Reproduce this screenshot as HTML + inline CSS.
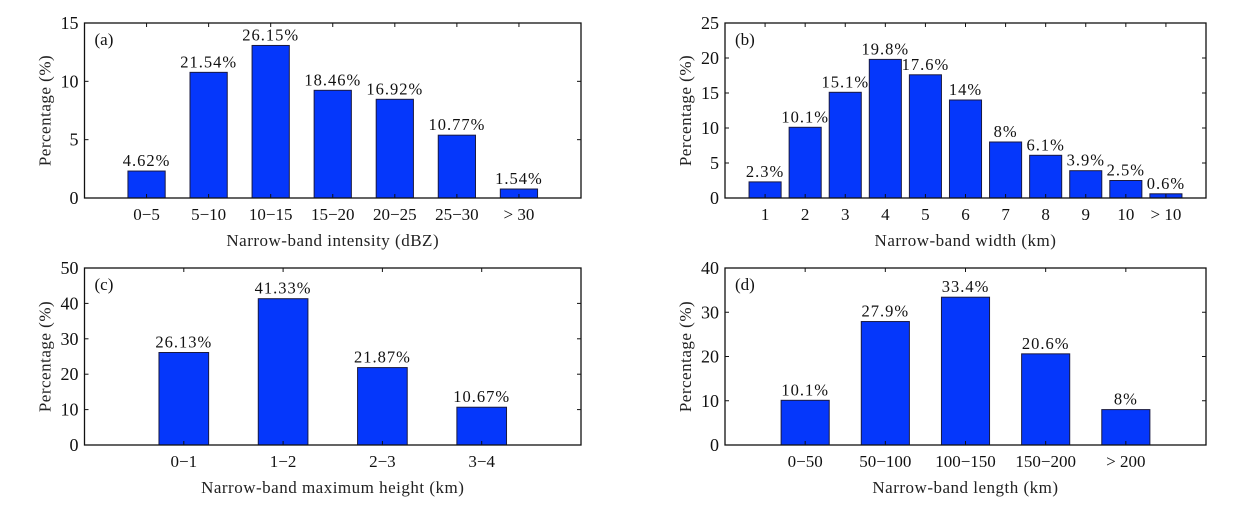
<!DOCTYPE html>
<html><head><meta charset="utf-8"><style>
html,body{margin:0;padding:0;background:#fff;}
svg{display:block;font-family:"Liberation Serif","Noto Serif CJK SC",serif;}
</style></head><body>
<svg id="chart" width="1258" height="514"></svg>
<script>
const catsA = ["0\u22125","5\u221210","10\u221215","15\u221220","20\u221225","25\u221230","> 30"];
const valsA = [4.62,21.54,26.15,18.46,16.92,10.77,1.54];
const ticksA = [0,5,10,15];
const catsB = ["1","2","3","4","5","6","7","8","9","10","> 10"];
const valsB = [2.3,10.1,15.1,19.8,17.6,14,8,6.1,3.9,2.5,0.6];
const ticksB = [0,5,10,15,20,25];
const catsC = ["0\u22121","1\u22122","2\u22123","3\u22124"];
const valsC = [26.13,41.33,21.87,10.67];
const ticksC = [0,10,20,30,40,50];
const catsD = ["0\u221250","50\u2212100","100\u2212150","150\u2212200","> 200"];
const valsD = [10.1,27.9,33.4,20.6,8];
const ticksD = [0,10,20,30,40];

const NS="http://www.w3.org/2000/svg";
const svg=document.getElementById('chart');
function mk(tag,attrs,parent,text){const e=document.createElementNS(NS,tag);for(const k in attrs)e.setAttribute(k,attrs[k]);if(text!==undefined)e.textContent=text;parent.appendChild(e);return e;}

function panel(cfg){
  const g=mk('g',{},svg);
  
  
  const {L,R,T,B,cats,vals,ticks,ymax,scale,bw,xtitle,id}=cfg;
  const n=cats.length;
  const xs=v=>L+(R-L)*v/(n+1);
  const ys=v=>B-(B-T)*v/ymax;
  cats.forEach((c,i)=>{
    const v=vals[i]*scale;
    const x0=xs(i+1-bw/2), x1=xs(i+1+bw/2);
    const r=mk('rect',{x:x0,y:ys(v),width:x1-x0,height:B-ys(v),fill:'#0537fb',stroke:'#1a1a40','stroke-width':1},g);
    
    
    const t=mk('text',{x:xs(i+1),y:ys(v)-5,'text-anchor':'middle','font-size':16.5,'letter-spacing':1,fill:'#111'},g,vals[i]+'%');
    
    
    const xl=mk('text',{x:xs(i+1),y:B+22,'text-anchor':'middle','font-size':17,fill:'#111'},g,c);
    
    
    mk('line',{x1:xs(i+1),x2:xs(i+1),y1:B,y2:B-4,stroke:'#111'},g);
    mk('line',{x1:xs(i+1),x2:xs(i+1),y1:T,y2:T+4,stroke:'#111'},g);
  });
  ticks.forEach(tv=>{
    const y=ys(tv);
    mk('line',{x1:L,x2:L+4,y1:y,y2:y,stroke:'#111'},g);
    mk('line',{x1:R,x2:R-4,y1:y,y2:y,stroke:'#111'},g);
    const t=mk('text',{x:L-6,y:y+6,'text-anchor':'end','font-size':18,fill:'#111'},g,String(tv));
    
    
  });
  const f=mk('rect',{x:L,y:T,width:R-L,height:B-T,fill:'none',stroke:'#111','stroke-width':1.3},g);
  
  
  const pl=mk('text',{x:L+10,y:T+22,'font-size':17,fill:'#111'},g,'('+id+')');
  
  
  const yt=mk('text',{x:0,y:0,'text-anchor':'middle','font-size':17,'letter-spacing':0.5,fill:'#222',transform:`translate(${L-34},${(T+B)/2}) rotate(-90)`},g,'Percentage (%)');
  
  
  const xt=mk('text',{x:(L+R)/2,y:B+48,'text-anchor':'middle','font-size':17,'letter-spacing':0.5,fill:'#222'},g,xtitle);
  
  
}
panel({id:'a',L:84.5,R:581,T:23,B:198,cats:catsA,vals:valsA,ticks:ticksA,ymax:15,scale:0.5,bw:0.6,xtitle:'Narrow-band intensity (dBZ)'});
panel({id:'b',L:725,R:1206,T:23,B:198,cats:catsB,vals:valsB,ticks:ticksB,ymax:25,scale:1,bw:0.8,xtitle:'Narrow-band width (km)'});
panel({id:'c',L:84.5,R:581,T:268,B:445,cats:catsC,vals:valsC,ticks:ticksC,ymax:50,scale:1,bw:0.5,xtitle:'Narrow-band maximum height (km)'});
panel({id:'d',L:725,R:1206,T:268,B:445,cats:catsD,vals:valsD,ticks:ticksD,ymax:40,scale:1,bw:0.6,xtitle:'Narrow-band length (km)'});
</script>
</body></html>
